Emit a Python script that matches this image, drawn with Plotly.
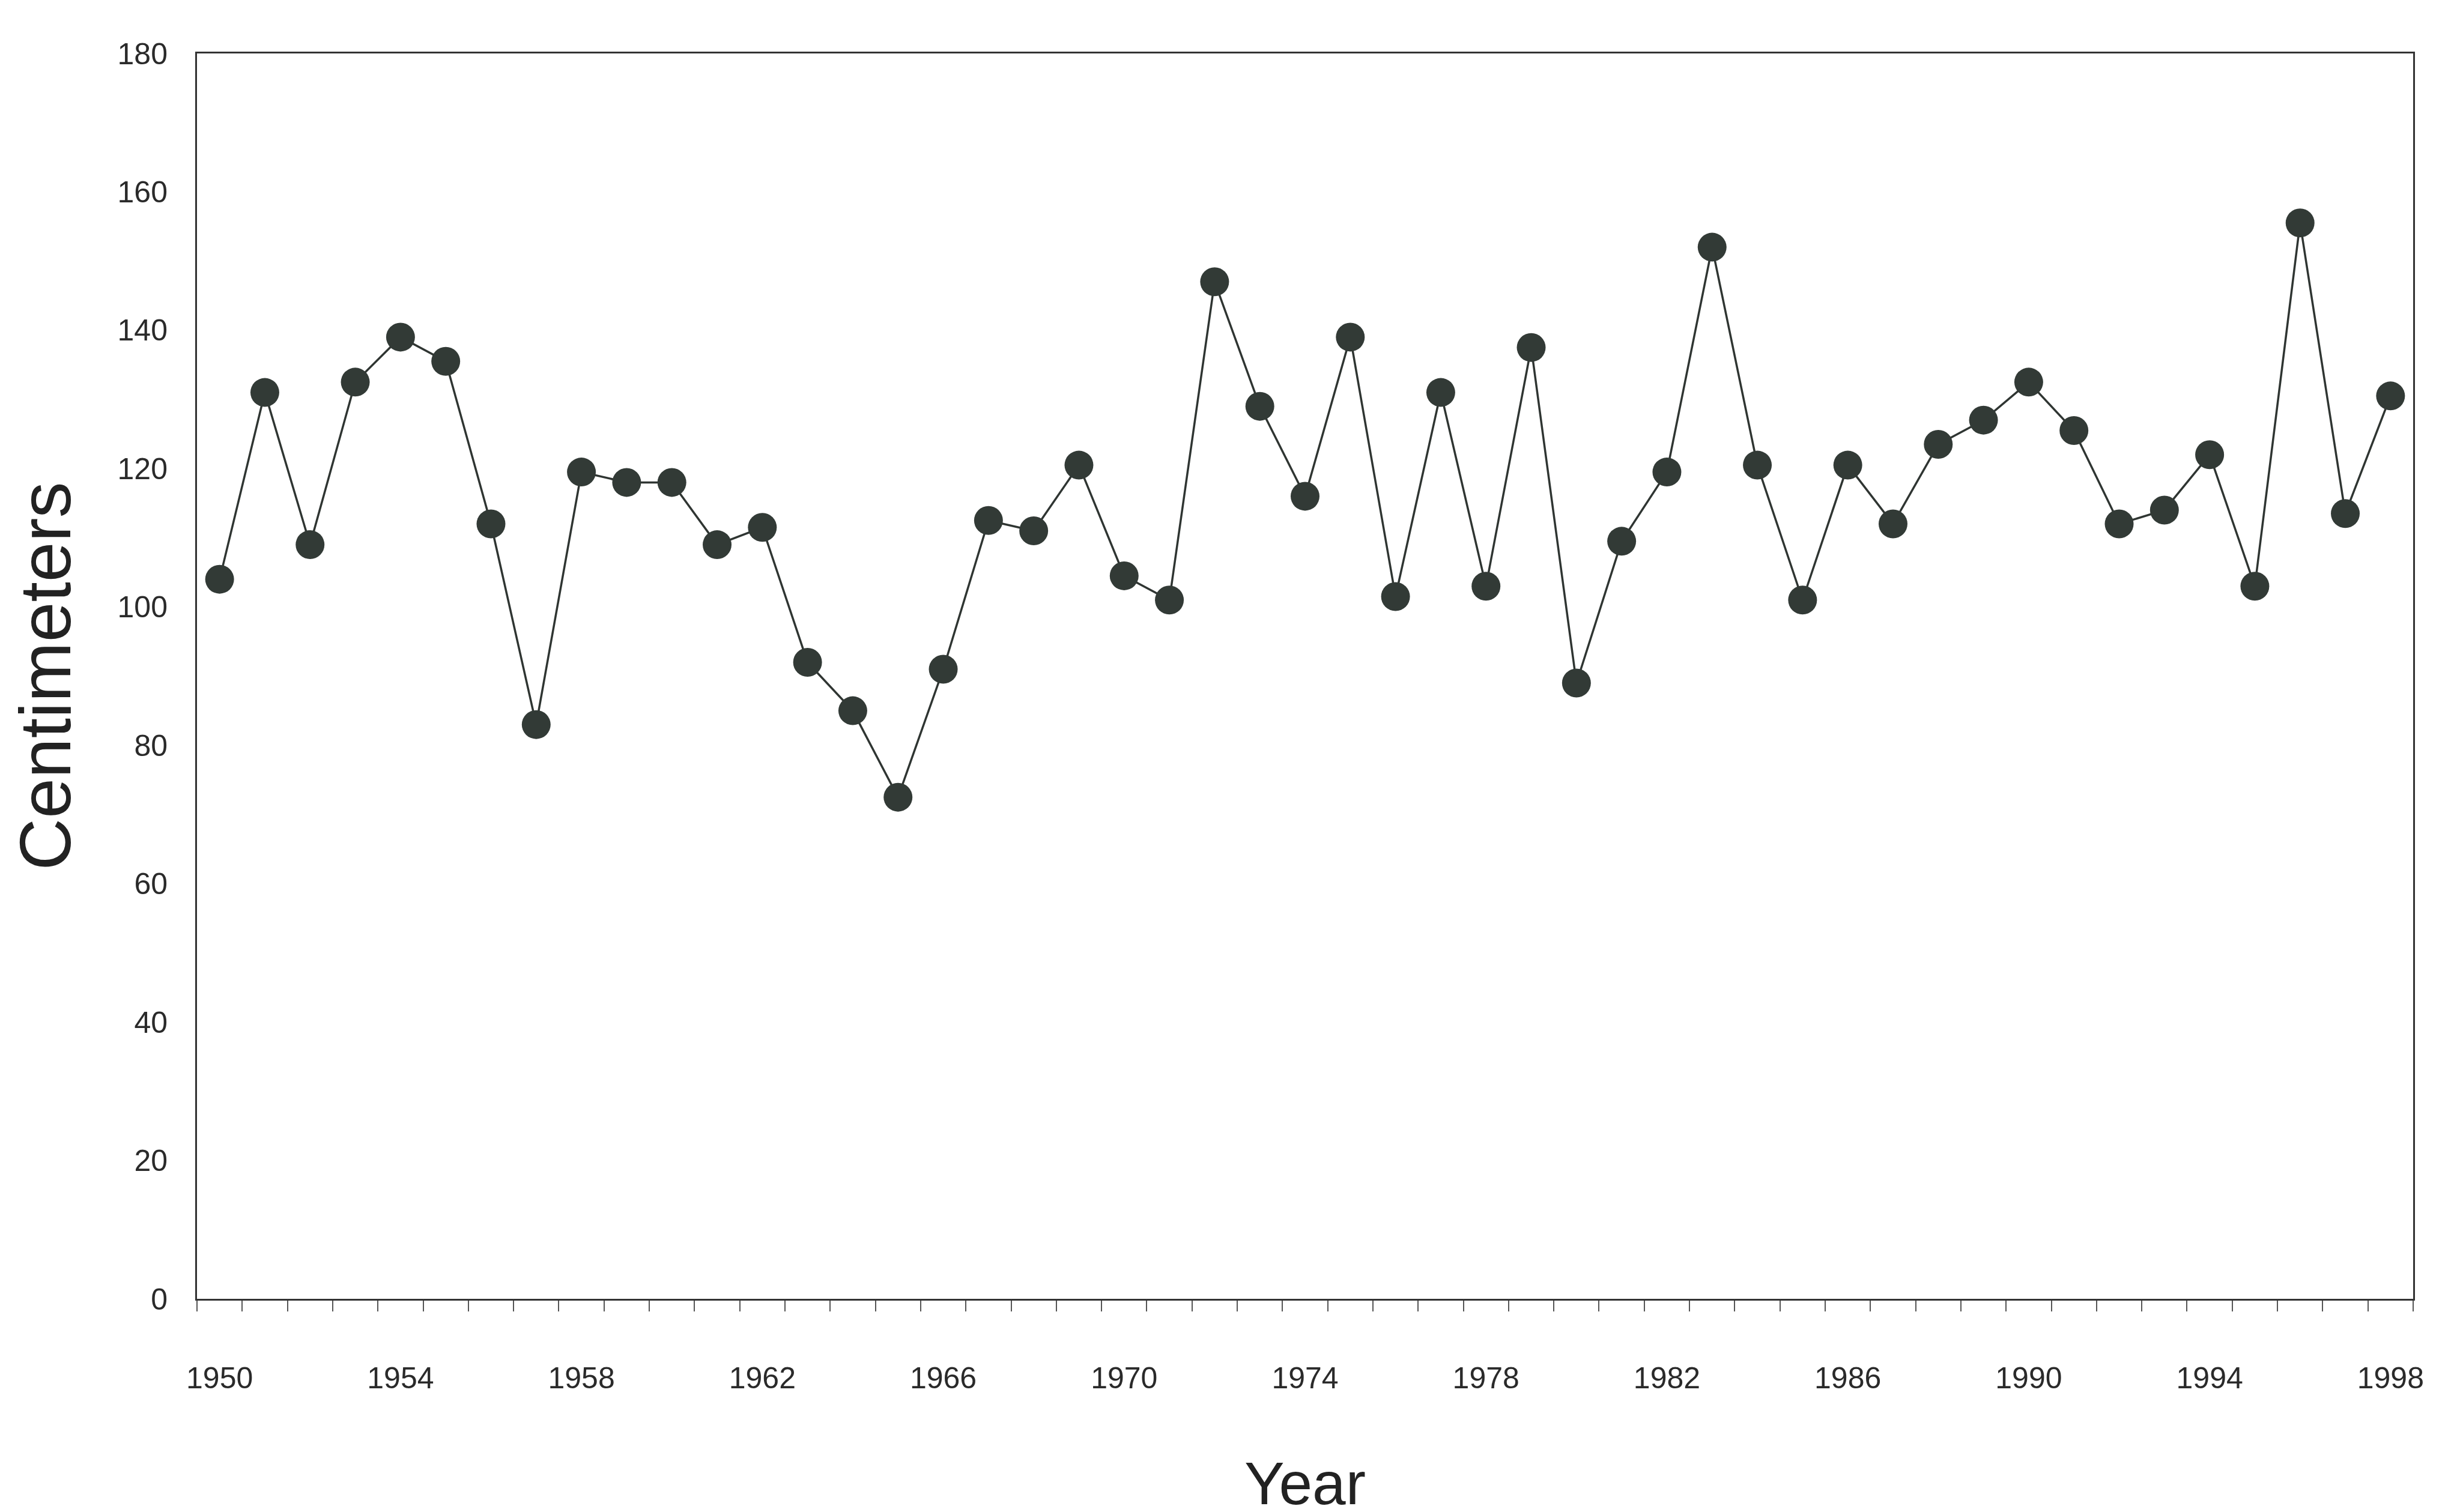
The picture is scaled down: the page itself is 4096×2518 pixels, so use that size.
import plotly.graph_objects as go

years = list(range(1950, 1999))
centimeters = [104, 131, 109, 132.5, 139, 135.5, 112, 83, 119.5, 118, 118, 109, 111.5,
               92, 85, 72.5, 91, 112.5, 111, 120.5, 104.5, 101, 147, 129, 116, 139,
               101.5, 131, 103, 137.5, 89, 109.5, 119.5, 152, 120.5, 101, 120.5, 112,
               123.5, 127, 132.5, 125.5, 112, 114, 122, 103, 155.5, 113.5, 130.5]
x_tick_years = list(range(1950, 1999, 4))
y_ticks = list(range(0, 181, 20))

ink = "#2f3532"
font_family = "Liberation Sans Narrow, Arial Narrow, Liberation Sans, Arial, sans-serif"

fig = go.Figure()
fig.add_trace(go.Scatter(
    x=years, y=centimeters, mode="lines+markers",
    line=dict(color=ink, width=3.5),
    marker=dict(color="#323a36", size=48, line=dict(width=0)),
    showlegend=False, hoverinfo="skip",
))

fig.update_layout(
    width=4096, height=2518,
    margin=dict(l=320, r=86, t=81, b=363),
    paper_bgcolor="white", plot_bgcolor="white",
    font=dict(family=font_family, color="#2a2a2a"),
)

fig.update_xaxes(
    range=[1949.5, 1998.5],
    tickmode="array", tickvals=x_tick_years, ticktext=[str(v) for v in x_tick_years],
    ticks="outside", ticklen=18, tickcolor="rgba(0,0,0,0)",
    ticklabelstandoff=68,
    minor=dict(ticks="outside", tick0=1949.5, dtick=1, ticklen=18, tickwidth=2, tickcolor="#555"),
    showline=True, linecolor="#333", linewidth=3, mirror=True,
    showgrid=False, zeroline=False,
    tickfont=dict(size=50, family=font_family, color="#2a2a2a"),
    title=dict(text="Year", font=dict(size=100, family="Liberation Sans, Arial, sans-serif", color="#222"), standoff=115),
)
fig.update_yaxes(
    range=[0, 180],
    tickmode="array", tickvals=y_ticks, ticktext=[str(v) for v in y_ticks],
    ticks="", ticklabelstandoff=36,
    showline=True, linecolor="#333", linewidth=3, mirror=True,
    showgrid=False, zeroline=False,
    tickfont=dict(size=50, family=font_family, color="#2a2a2a"),
    title=dict(text="Centimeters", font=dict(size=120, family="Liberation Sans, Arial, sans-serif", color="#222"), standoff=45),
)

fig.write_html("out.html")
